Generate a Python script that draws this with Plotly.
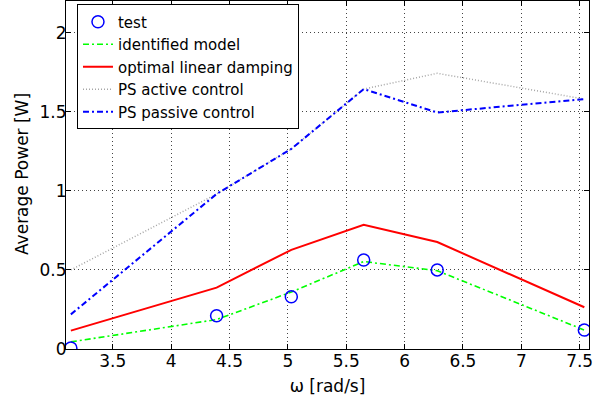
import plotly.graph_objects as go

omega = [3.1416, 4.39, 5.03, 5.65, 6.28, 7.54]
test = [0.006, 0.21, 0.33, 0.563, 0.50, 0.12]
identified = [0.045, 0.186, 0.36, 0.553, 0.495, 0.12]
optimal = [0.116, 0.388, 0.627, 0.785, 0.676, 0.264]
ps_active = [0.50, 0.98, 1.265, 1.643, 1.743, 1.58]
ps_passive = [0.219, 0.98, 1.265, 1.643, 1.495, 1.58]

x_ticks = [3.5, 4, 4.5, 5, 5.5, 6, 6.5, 7, 7.5]
y_ticks = [0, 0.5, 1, 1.5, 2]

FONT = "DejaVu Sans, Liberation Sans, sans-serif"

fig = go.Figure()
fig.add_trace(go.Scatter(x=omega, y=identified, mode="lines", name="identified model",
                         line=dict(color="#00ff00", width=1.6, dash="6px,3px,2px,3px"), legendrank=2))
fig.add_trace(go.Scatter(x=omega, y=optimal, mode="lines", name="optimal linear damping",
                         line=dict(color="#ff0000", width=2), legendrank=3))
fig.add_trace(go.Scatter(x=omega, y=ps_active, mode="lines", name="PS active control",
                         line=dict(color="#a6a6a6", width=1.5, dash="1px,2px"), legendrank=4))
fig.add_trace(go.Scatter(x=omega, y=ps_passive, mode="lines", name="PS passive control",
                         line=dict(color="#0000ff", width=2, dash="6px,3px,2px,3px"), legendrank=5))
fig.add_trace(go.Scatter(x=omega, y=test, mode="markers", name="test",
                         marker=dict(symbol="circle-open", size=12, color="#0000ff",
                                     line=dict(width=1.5, color="#0000ff")), legendrank=1))

axis_common = dict(
    showline=True, linecolor="black", linewidth=1, mirror="ticks",
    ticks="inside", ticklen=5, tickcolor="black", automargin=False,
    showgrid=True, gridcolor="#444444", gridwidth=1, griddash="1px,3px",
    zeroline=False, tickfont=dict(family=FONT, size=17, color="black"),
)

fig.update_xaxes(range=[3.10, 7.58], tickvals=x_ticks, ticktext=[str(v) for v in x_ticks],
                 ticklabelstandoff=-3,
                 title=dict(text="ω [rad/s]", font=dict(family=FONT, size=17, color="black"), standoff=9),
                 **axis_common)
fig.update_yaxes(range=[0, 2.2], tickvals=y_ticks, ticktext=[str(v) for v in y_ticks],
                 ticklabelstandoff=-5, **axis_common)

fig.add_annotation(text="Average Power [W]", xref="paper", yref="paper",
                   x=-0.084, y=0.503, xanchor="center", yanchor="middle", textangle=-90,
                   showarrow=False, font=dict(family=FONT, size=17, color="black"))

fig.update_layout(
    width=611, height=402,
    margin=dict(l=66, r=22, t=1, b=53, autoexpand=False),
    plot_bgcolor="white", paper_bgcolor="white",
    font=dict(family=FONT, size=17, color="black"),
    legend=dict(x=0.021, y=0.99, xanchor="left", yanchor="top",
                bgcolor="white", bordercolor="black", borderwidth=1,
                font=dict(family=FONT, size=15, color="black"),
                tracegroupgap=0, itemwidth=30),
    showlegend=True,
)

fig.write_html("out.html", config={"displayModeBar": False},
               post_script="document.body.style.margin='0px';")
